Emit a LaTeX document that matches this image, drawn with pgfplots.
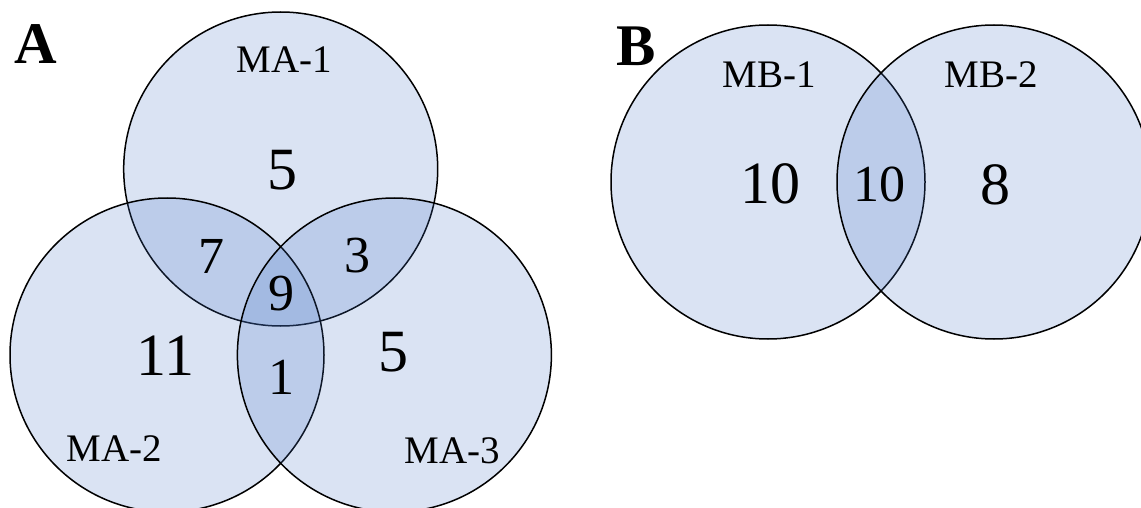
\documentclass[border=0pt]{standalone}
\usepackage{fontspec}
\setmainfont{Liberation Serif}
\usepackage{pgfplots}
\pgfplotsset{compat=1.18}
\definecolor{vennblue}{HTML}{4472C4}
\pgfplotsset{
  lbl/.style 2 args={draw=none, mark=none, nodes near coords, point meta=explicit symbolic,
    every node near coord/.append style={anchor=center, inner sep=0pt, font=\fontsize{#1}{#2}\selectfont}},
}
\begin{document}
\begin{tikzpicture}
\begin{axis}[width=1141pt,height=508pt,scale only axis,
  xmin=0,xmax=1141,ymin=0,ymax=508,y dir=reverse,
  axis line style={draw=none},xtick=\empty,ytick=\empty,
  clip=true, clip marker paths=true]
% circles (centres, radius 157 units = 157pt)
\addplot[only marks, mark=*, mark size=157pt,
  mark options={fill=vennblue, fill opacity=0.2, draw=black, line width=1.5pt}]
  coordinates {(280.7,169) (167,355) (394.4,355) (768,182) (994,182)};
% large counts
\addplot[lbl={60}{70}] table[meta=label] {
x y label
282 170 5
165.5 355.5 11
393 352.5 5
770 184 10
995 185 8
};
% small counts (overlaps)
\addplot[lbl={52}{60}] table[meta=label] {
x y label
211 256.5 7
357 256 3
281.5 293.5 9
281.5 377.5 1
879.5 184.5 10
};
% set names
\addplot[lbl={39}{46}] table[meta=label] {
x y label
284 59.5 MA-1
114 448.5 MA-2
452.5 451 MA-3
769.5 74.5 MB-1
991.5 74.5 MB-2
};
% panel letters
\addplot[lbl={59}{68}, every node near coord/.append style={font=\fontsize{59}{68}\selectfont\bfseries}] table[meta=label] {
x y label
36 44.5 A
636 46 B
};
\end{axis}
\pgfresetboundingbox
\useasboundingbox (current axis.south west) rectangle (current axis.north east);
\end{tikzpicture}
\end{document}
